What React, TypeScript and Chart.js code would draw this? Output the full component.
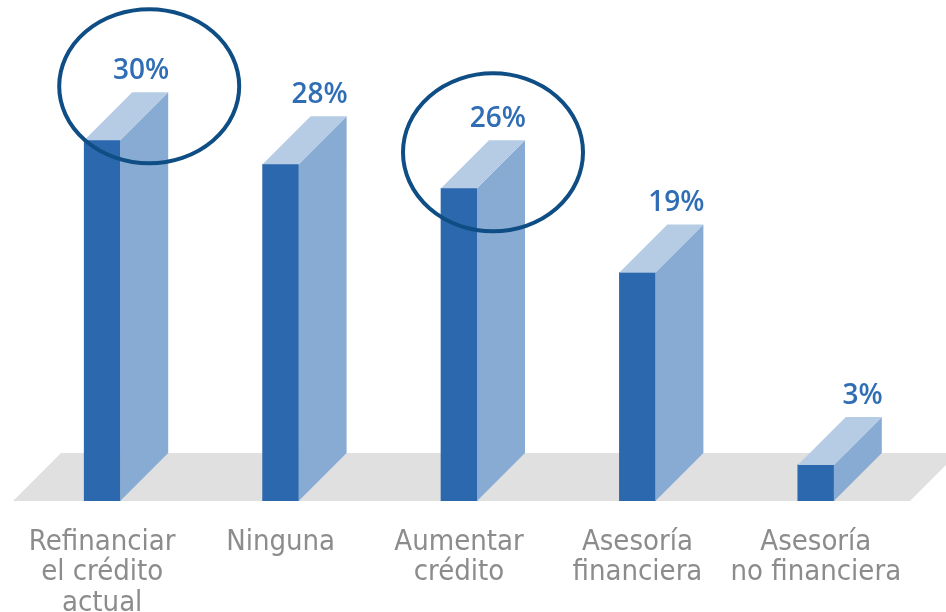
import React, { useEffect, useRef } from "react";
import { Chart, registerables } from "chart.js";

Chart.register(...registerables);

const categories: string[][] = [
  ["Refinanciar", "el crédito", "actual"],
  ["Ninguna"],
  ["Aumentar", "crédito"],
  ["Asesoría", "financiera"],
  ["Asesoría", "no financiera"],
];
const values: number[] = [30, 28, 26, 19, 3];
const valueLabels: string[] = ["30%", "28%", "26%", "19%", "3%"];
const highlighted: number[] = [0, 2];

const FRONT = "#2B68AD";
const SIDE = "#88ABD3";
const TOP = "#B6CCE5";
const FLOOR = "#E0E0E0";
const RING = "#0F4E84";
const VALUE_COLOR = "#2F6DB5";
const LABEL_COLOR = "#8C8C8C";
const DEPTH = 48;

// ellipse offsets (relative to bar top-center), radii
const ringStyle: Record<number, { dx: number; dy: number; rx: number; ry: number }> = {
  0: { dx: 47, dy: -54, rx: 90, ry: 77 },
  2: { dx: 34, dy: -36, rx: 90, ry: 79 },
};

const bar3d = {
  id: "bar3d",
  beforeDatasetsDraw(chart: any) {
    const { ctx, chartArea } = chart;
    const b = chartArea.bottom;
    const l = chartArea.left;
    const r = chartArea.right + 5;
    ctx.save();
    ctx.fillStyle = FLOOR;
    ctx.beginPath();
    ctx.moveTo(l, b);
    ctx.lineTo(l + DEPTH, b - DEPTH);
    ctx.lineTo(r + DEPTH, b - DEPTH);
    ctx.lineTo(r, b);
    ctx.closePath();
    ctx.fill();
    ctx.restore();
  },
  afterDatasetsDraw(chart: any) {
    const { ctx } = chart;
    const meta = chart.getDatasetMeta(0);
    const xScale = chart.scales.x;
    ctx.save();
    meta.data.forEach((el: any, i: number) => {
      const { x, y, base, width } = el.getProps(["x", "y", "base", "width"], true);
      const left = x - width / 2;
      const right = x + width / 2;
      // side face
      ctx.fillStyle = SIDE;
      ctx.beginPath();
      ctx.moveTo(right, y);
      ctx.lineTo(right + DEPTH, y - DEPTH);
      ctx.lineTo(right + DEPTH, base - DEPTH);
      ctx.lineTo(right, base);
      ctx.closePath();
      ctx.fill();
      // top face
      ctx.fillStyle = TOP;
      ctx.beginPath();
      ctx.moveTo(left, y);
      ctx.lineTo(left + DEPTH, y - DEPTH);
      ctx.lineTo(right + DEPTH, y - DEPTH);
      ctx.lineTo(right, y);
      ctx.closePath();
      ctx.fill();
      // value label
      ctx.fillStyle = VALUE_COLOR;
      ctx.font = '600 28px "Open Sans", sans-serif';
      ctx.textAlign = "right";
      ctx.textBaseline = "middle";
      ctx.fillText(valueLabels[i], right + DEPTH + 1, y - DEPTH - 21);
    });
    // category labels
    ctx.fillStyle = LABEL_COLOR;
    ctx.font = '29px "Liberation Sans Narrow", "DejaVu Sans Condensed", sans-serif';
    ctx.textAlign = "center";
    ctx.textBaseline = "middle";
    categories.forEach((lines, i) => {
      const cx = xScale.getPixelForValue(i);
      lines.forEach((t, j) => {
        ctx.fillText(t, cx, chart.chartArea.bottom + 41 + j * 30.5);
      });
    });
    // highlight rings
    ctx.strokeStyle = RING;
    ctx.lineWidth = 4;
    highlighted.forEach((i) => {
      const el = meta.data[i];
      const { x, y } = el.getProps(["x", "y"], true);
      const s = ringStyle[i];
      ctx.beginPath();
      ctx.ellipse(x + s.dx, y + s.dy, s.rx, s.ry, 0, 0, Math.PI * 2);
      ctx.stroke();
    });
    ctx.restore();
  },
};

export default function App() {
  const ref = useRef<HTMLCanvasElement>(null);
  useEffect(() => {
    if (!ref.current) return;
    const chart = new Chart(ref.current, {
      type: "bar",
      data: {
        labels: categories.map((c) => c.join(" ")),
        datasets: [
          {
            data: values,
            backgroundColor: FRONT,
            borderWidth: 0,
            barThickness: 36,
          },
        ],
      },
      options: {
        responsive: false,
        animation: false,
        layout: { padding: { top: 20, bottom: 111, left: 13, right: 41 } },
        plugins: { legend: { display: false }, tooltip: { enabled: false } },
        scales: {
          x: { display: false, grid: { display: false } },
          y: { display: false, min: 0, max: 40 },
        },
      },
      plugins: [bar3d],
    });
    return () => chart.destroy();
  }, []);
  return (
    <div style={{ position: "fixed", left: 0, top: 0, width: 946, height: 612, background: "#fff" }}>
      <canvas ref={ref} width={946} height={612} />
    </div>
  );
}
